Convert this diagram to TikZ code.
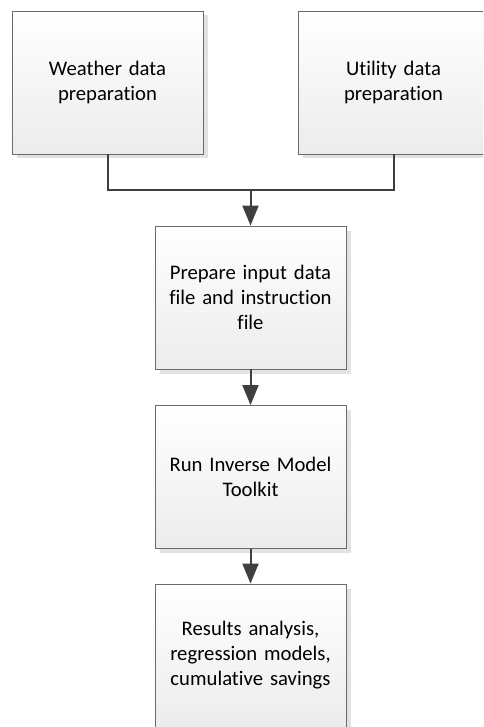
\documentclass[tikz,border=0pt]{standalone}
\usepackage{fontspec}
\setmainfont{Carlito}[Ligatures={NoCommon,NoContextual}]
\usetikzlibrary{arrows.meta,shadows}
\definecolor{boxline}{HTML}{6A6A6A}
\definecolor{boxbottom}{HTML}{ECECEC}
\definecolor{shade}{HTML}{E2E2E2}
\definecolor{wire}{HTML}{3F3F3F}
\tikzset{
  stepbox/.style={rectangle, draw=boxline, line width=0.9pt,
    top color=white, bottom color=boxbottom,
    minimum width=191pt, minimum height=143pt, inner sep=0pt,
    align=center, text width=180pt,
    font=\fontsize{20.7}{25}\selectfont,
    drop shadow={shadow xshift=4.5pt, shadow yshift=-4.5pt, fill=shade, opacity=1}},
  wireline/.style={draw=wire, line width=2pt},
  flow/.style={wireline, -{Triangle[length=20pt, width=16pt]}}
}
\begin{document}
\begin{tikzpicture}[x=1pt, y=-1pt]
  \useasboundingbox (0,0) rectangle (483,727);
  \clip (0,0) rectangle (483,727);
  \fill[white] (0,0) rectangle (483,727);

  % source boxes
  \node[stepbox] (weather) at (107.5,82.5) {Weather data\\preparation};
  \node[stepbox] (utility) at (393.5,82.5) {Utility data\\preparation};

  % main chain
  \node[stepbox] (prepare) at (250.5,297.5) {Prepare input data\\file and instruction\\file};
  \node[stepbox] (run) at (250.5,477) {Run Inverse Model\\Toolkit};
  \node[stepbox] (results) at (250.5,655.5) {Results analysis,\\regression models,\\cumulative savings};

  % merge point of the two source lines
  \coordinate (join) at (250.5,190);

  \draw[wireline] (weather.south) |- (join);
  \draw[wireline] (utility.south) |- (join);
  \draw[flow] (join) -- (prepare.north);
  \draw[flow] (prepare.south) -- (run.north);
  \draw[flow] (run.south) -- (results.north);
\end{tikzpicture}
\end{document}
